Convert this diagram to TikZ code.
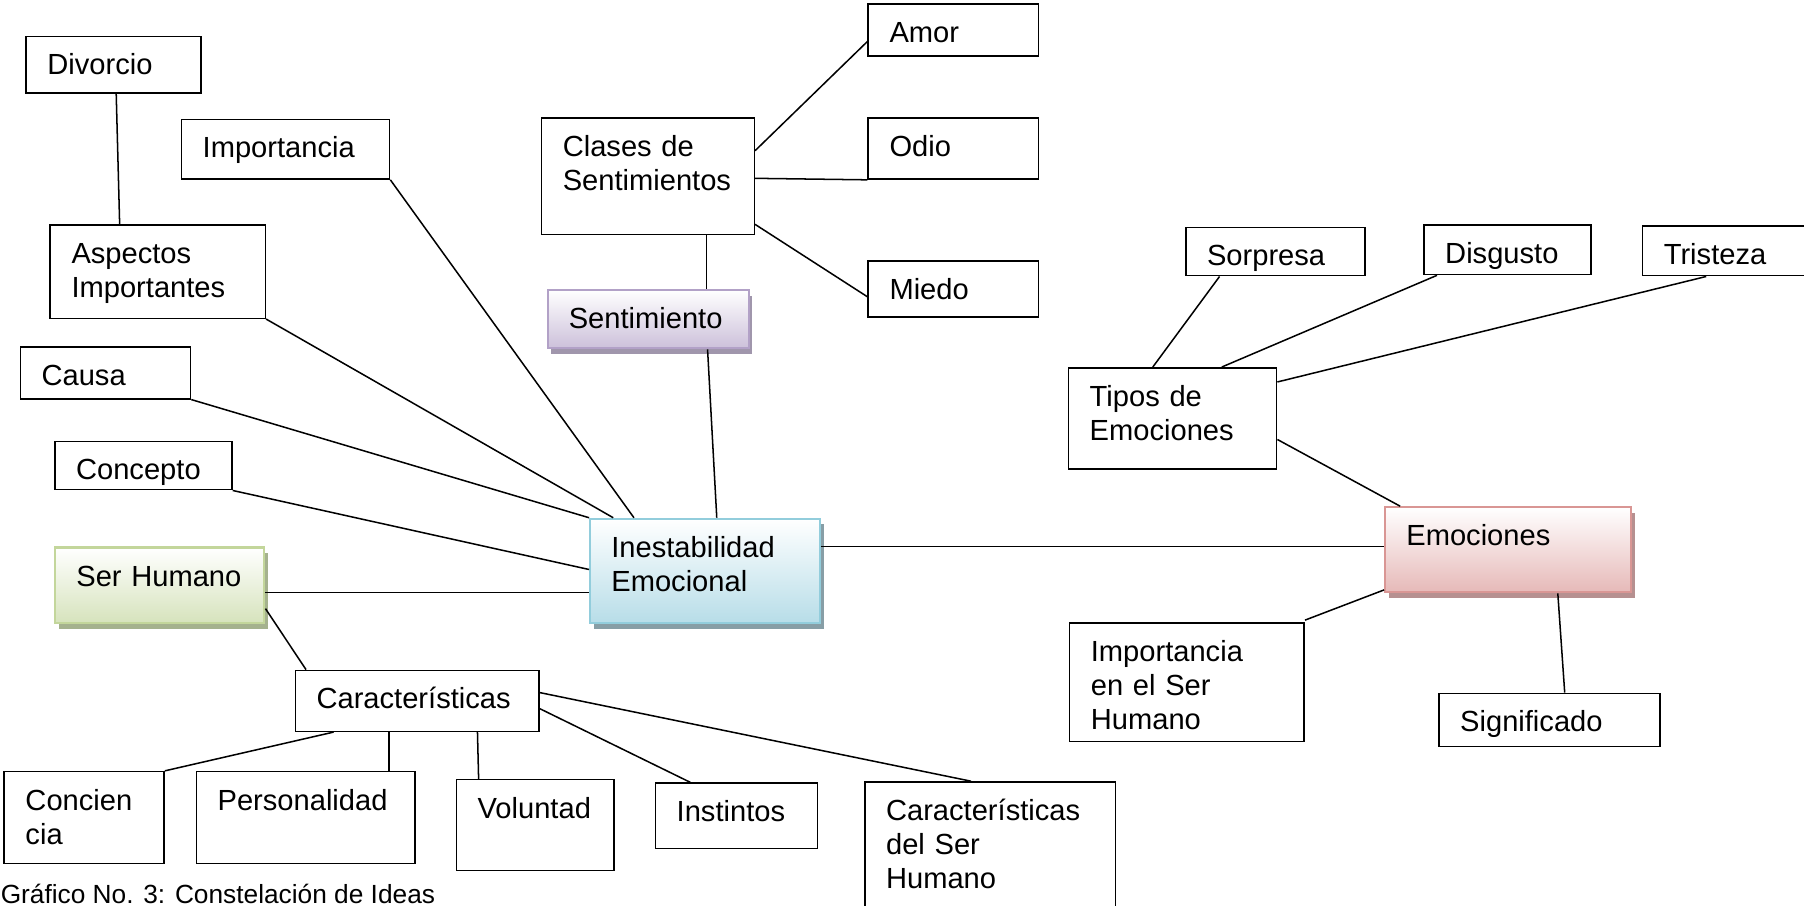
\documentclass[tikz,border=0pt]{standalone}
\usepackage{fontspec}
\setmainfont{Liberation Sans}
\usetikzlibrary{calc,shadows}
\hyphenpenalty=10000
\exhyphenpenalty=10000

\definecolor{blueA}{RGB}{183,221,232}
\definecolor{blueB}{RGB}{146,205,220}
\definecolor{blueC}{RGB}{135,158,166}
\definecolor{lilacA}{RGB}{204,192,218}
\definecolor{lilacB}{RGB}{178,161,199}
\definecolor{lilacC}{RGB}{160,150,172}
\definecolor{greenA}{RGB}{214,227,188}
\definecolor{greenB}{RGB}{195,214,155}
\definecolor{greenC}{RGB}{165,178,142}
\definecolor{pinkA}{RGB}{230,185,184}
\definecolor{pinkB}{RGB}{217,150,148}
\definecolor{pinkC}{RGB}{182,144,144}

\begin{document}
\begin{tikzpicture}[x=0.02cm,y=-0.02cm,line width=0.75pt,
    font=\fontsize{14.4pt}{16.8pt}\selectfont,
    hub/.style={top color=white,bottom color=#1A,draw=#1B,line width=1pt,
      drop shadow={shadow xshift=0.06cm,shadow yshift=-0.1cm,fill=#1C,opacity=1}}]
  \useasboundingbox (0,0) rectangle (1568,787);
  \begin{scope}[every node/.style={rectangle,draw,anchor=north west,align=left,inner xsep=0.37cm,inner ysep=0pt,text height=0.67cm}]
    \node[text width=2.30cm,text depth=0.31cm] (divorcio) at (22,31) {Divorcio};
    \node[text width=2.88cm,text depth=0.37cm] (importancia) at (157,103) {Importancia};
    \node[text width=3.00cm,text depth=0.95cm] (aspectos) at (43,195) {Aspectos\\Importantes};
    \node[text width=2.22cm,text depth=0.23cm] (causa) at (17,301) {Causa};
    \node[text width=2.34cm,text depth=0.17cm] (concepto) at (47,383) {Concepto};
    \node[hub=green,text width=2.90cm,text depth=0.65cm] (serhum) at (47,475) {Ser Humano};
    \node[hub=blue,text width=3.26cm,text depth=1.15cm] (inest) at (512,450) {Inestabilidad\\Emocional};
    \node[hub=lilac,text width=2.76cm,text depth=0.35cm] (sentim) at (475,251) {Sentimiento};
    \node[text width=2.96cm,text depth=1.35cm] (clases) at (470,102) {Clases de\\Sentimientos};
    \node[text width=2.22cm,text depth=0.23cm] (amor) at (754,3) {Amor};
    \node[text width=2.22cm,text depth=0.39cm] (odio) at (754,102) {Odio};
    \node[text width=2.22cm,text depth=0.31cm] (miedo) at (754,226) {Miedo};
    \node[text width=3.50cm,text depth=0.39cm] (caract) at (256,582) {Características};
    \node[text width=2.04cm,text depth=0.93cm] (concien) at (3,670) {Concien\\cia};
    \node[text width=3.06cm,text depth=0.93cm] (personal) at (170,670) {Personalidad};
    \node[text width=2.00cm,text depth=0.91cm] (volunt) at (396,677) {Voluntad};
    \node[text width=2.08cm,text depth=0.47cm] (instint) at (569,680) {Instintos};
    \node[text width=3.62cm,text depth=1.73cm] (cdsh) at (751,679) {Características\\del Ser\\Humano};
    \node[text width=2.88cm,text depth=1.09cm] (tipos) at (928,319) {Tipos de\\Emociones};
    \node[text width=2.38cm,text depth=0.17cm] (sorpresa) at (1030,197) {Sorpresa};
    \node[text width=2.16cm,text depth=0.19cm] (disgusto) at (1237,195) {Disgusto};
    \node[text width=2.46cm,text depth=0.19cm] (tristeza) at (1427,196) {Tristeza};
    \node[hub=pink,text width=3.54cm,text depth=0.81cm] (emoc) at (1203,440) {Emociones};
    \node[text width=3.34cm,text depth=1.39cm] (impsh) at (929,541) {Importancia\\en el Ser\\Humano};
    \node[text width=3.10cm,text depth=0.25cm] (signif) at (1250,602) {Significado};
  \end{scope}
  \node[anchor=base west,inner sep=0pt,font=\fontsize{13pt}{15pt}\selectfont] (caption) at (0,785) {Gráfico No. 3: Constelación de Ideas};

  \draw ($(divorcio.south west)+(79,0)$) -- ($(aspectos.north west)+(61,0)$);
  \draw (importancia.south east) -- ($(inest.north west)+(39,0)$);
  \draw (aspectos.south east) -- ($(inest.north west)+(21,0)$);
  \draw (causa.south east) -- (inest.north west);
  \draw (concepto.south east) -- ($(inest.north west)+(0,45)$);
  \draw ($(serhum.north east)+(0,40)$) -- ($(inest.north west)+(0,65)$);
  \draw ($(serhum.north east)+(0,54)$) -- ($(caract.north west)+(10,0)$);
  \draw ($(inest.north west)+(111,0)$) -- ($(sentim.south west)+(140,0)$);
  \draw ($(sentim.north west)+(139,0)$) -- ($(clases.south west)+(144,0)$);
  \draw ($(clases.north east)+(0,29)$) -- ($(amor.north west)+(0,33)$);
  \draw ($(clases.north east)+(0,53)$) -- (odio.south west);
  \draw ($(clases.north east)+(0,93)$) -- ($(miedo.north west)+(0,32)$);
  \draw ($(inest.north east)+(0,25)$) -- ($(emoc.north west)+(0,35)$);

  \draw ($(tipos.north west)+(74,0)$) -- ($(sorpresa.south west)+(30,0)$);
  \draw ($(tipos.north west)+(134,0)$) -- ($(disgusto.south west)+(12,0)$);
  \draw ($(tipos.north east)+(0,13)$) -- ($(tristeza.south west)+(56,0)$);
  \draw ($(tipos.north east)+(0,63)$) -- ($(emoc.north west)+(14,0)$);
  \draw ($(emoc.south west)+(0,-3)$) -- ($(impsh.north east)+(0,-2)$);
  \draw ($(emoc.south west)+(151,0)$) -- ($(signif.north west)+(110,0)$);

  \draw ($(caract.south west)+(34,0)$) -- (concien.north east);
  \draw ($(caract.south west)+(82,0)$) -- ($(personal.north west)+(168,0)$);
  \draw ($(caract.south west)+(159,0)$) -- ($(volunt.north west)+(20,0)$);
  \draw ($(caract.north east)+(0,34)$) -- ($(instint.north west)+(31,0)$);
  \draw ($(caract.north east)+(0,20)$) -- ($(cdsh.north west)+(93,0)$);
\end{tikzpicture}
\end{document}
